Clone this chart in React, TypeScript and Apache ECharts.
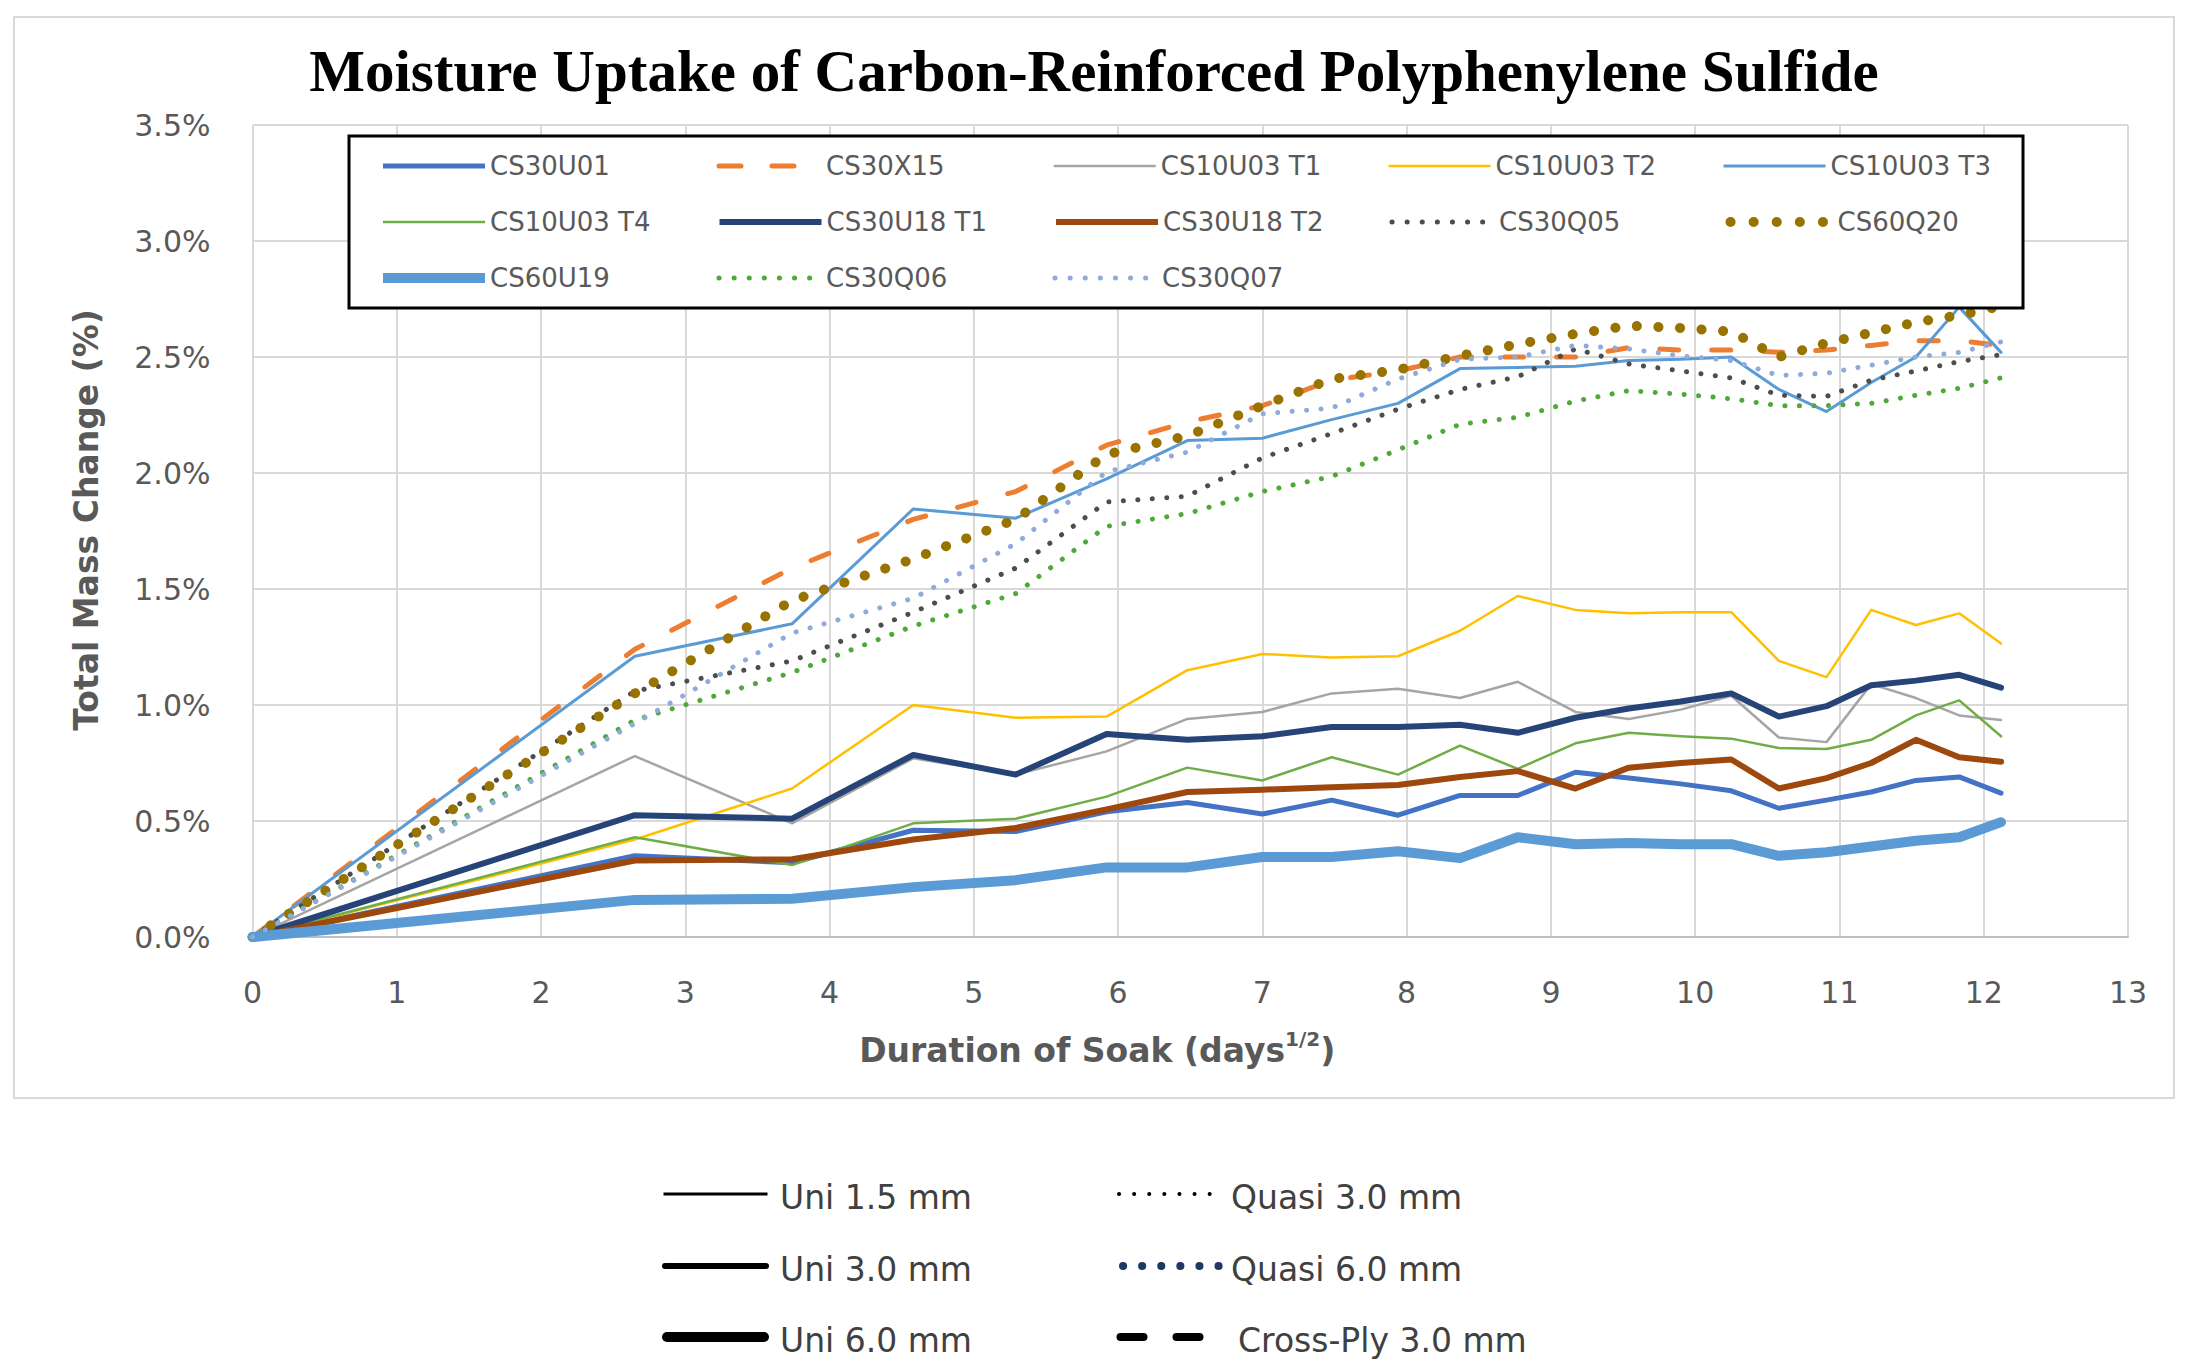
import React, { useEffect, useRef } from 'react';
import * as echarts from 'echarts';

// x values: square root of soak duration (days^1/2)
const sqrtDays = [0, 2.65, 3.74, 4.58, 5.29, 5.92, 6.48, 7.0, 7.48, 7.94, 8.37, 8.77, 9.17, 9.54, 9.9, 10.25, 10.58, 10.91, 11.22, 11.53, 11.83, 12.12];

// Total mass change (%) per specimen
const cs30u01 = [0, 0.35, 0.32, 0.46, 0.455, 0.54, 0.58, 0.53, 0.59, 0.525, 0.61, 0.61, 0.71, 0.685, 0.66, 0.63, 0.555, 0.59, 0.625, 0.675, 0.69, 0.62];
const cs30x15 = [0, 1.24, 1.59, 1.8, 1.92, 2.12, 2.22, 2.29, 2.4, 2.44, 2.5, 2.5, 2.5, 2.54, 2.53, 2.53, 2.52, 2.53, 2.55, 2.57, 2.57, 2.55];
const cs10u03t1 = [0, 0.78, 0.49, 0.77, 0.7, 0.8, 0.94, 0.97, 1.05, 1.07, 1.03, 1.1, 0.97, 0.94, 0.98, 1.04, 0.86, 0.84, 1.09, 1.03, 0.955, 0.935];
const cs10u03t2 = [0, 0.42, 0.64, 1.0, 0.945, 0.95, 1.15, 1.22, 1.205, 1.21, 1.32, 1.47, 1.41, 1.395, 1.4, 1.4, 1.19, 1.12, 1.41, 1.345, 1.395, 1.265];
const cs10u03t3 = [0, 1.21, 1.35, 1.845, 1.805, 1.975, 2.14, 2.15, 2.23, 2.3, 2.45, 2.455, 2.46, 2.485, 2.49, 2.5, 2.36, 2.265, 2.39, 2.5, 2.715, 2.52];
const cs10u03t4 = [0, 0.43, 0.31, 0.49, 0.51, 0.605, 0.73, 0.675, 0.775, 0.7, 0.825, 0.725, 0.835, 0.88, 0.865, 0.855, 0.815, 0.81, 0.85, 0.955, 1.02, 0.865];
const cs30u18t1 = [0, 0.525, 0.51, 0.785, 0.7, 0.875, 0.85, 0.865, 0.905, 0.905, 0.915, 0.88, 0.945, 0.985, 1.015, 1.05, 0.95, 0.995, 1.085, 1.105, 1.13, 1.075];
const cs30u18t2 = [0, 0.33, 0.335, 0.42, 0.47, 0.55, 0.625, 0.635, 0.645, 0.655, 0.69, 0.715, 0.64, 0.73, 0.75, 0.765, 0.64, 0.685, 0.75, 0.85, 0.775, 0.755];
const cs30q05 = [0, 1.06, 1.19, 1.4, 1.59, 1.875, 1.9, 2.065, 2.17, 2.275, 2.36, 2.415, 2.535, 2.47, 2.44, 2.41, 2.335, 2.33, 2.4, 2.44, 2.48, 2.51];
const cs60q20 = [0, 1.05, 1.45, 1.63, 1.8, 2.08, 2.16, 2.29, 2.405, 2.445, 2.505, 2.555, 2.6, 2.635, 2.625, 2.61, 2.5, 2.56, 2.605, 2.65, 2.68, 2.72];
const cs60u19 = [0, 0.16, 0.165, 0.215, 0.245, 0.3, 0.3, 0.345, 0.345, 0.37, 0.34, 0.43, 0.4, 0.405, 0.4, 0.4, 0.35, 0.365, 0.39, 0.415, 0.43, 0.495];
const cs30q06 = [0, 0.935, 1.14, 1.34, 1.48, 1.77, 1.825, 1.92, 1.985, 2.1, 2.21, 2.24, 2.31, 2.355, 2.34, 2.32, 2.29, 2.29, 2.3, 2.335, 2.365, 2.41];
const cs30q07 = [0, 0.92, 1.31, 1.46, 1.695, 2.005, 2.09, 2.255, 2.28, 2.405, 2.49, 2.5, 2.55, 2.535, 2.505, 2.485, 2.42, 2.43, 2.465, 2.5, 2.52, 2.565];

const seriesNames = ['CS30U01', 'CS30X15', 'CS10U03 T1', 'CS10U03 T2', 'CS10U03 T3', 'CS10U03 T4', 'CS30U18 T1', 'CS30U18 T2', 'CS30Q05', 'CS60Q20', 'CS60U19', 'CS30Q06', 'CS30Q07'];
const seriesValues = [cs30u01, cs30x15, cs10u03t1, cs10u03t2, cs10u03t3, cs10u03t4, cs30u18t1, cs30u18t2, cs30q05, cs60q20, cs60u19, cs30q06, cs30q07];

const yTicks = [0, 0.5, 1, 1.5, 2, 2.5, 3, 3.5];
const keyUni = ['Uni 1.5 mm', 'Uni 3.0 mm', 'Uni 6.0 mm'];
const keyOther = ['Quasi 3.0 mm', 'Quasi 6.0 mm', 'Cross-Ply 3.0 mm'];

type Sty = { color: string; width: number; dash?: number[]; legendDash?: number[] };
const styles: Sty[] = [
  { color: '#4472C4', width: 5 },
  { color: '#ED7D31', width: 5, dash: [19, 33], legendDash: [22, 31] },
  { color: '#A5A5A5', width: 2.5 },
  { color: '#FFC000', width: 2.5 },
  { color: '#5B9BD5', width: 3 },
  { color: '#70AD47', width: 2.5 },
  { color: '#264478', width: 6 },
  { color: '#9E480E', width: 6 },
  { color: '#4D4D4D', width: 5, dash: [0.1, 14.4], legendDash: [0.1, 15] },
  { color: '#997300', width: 10, dash: [0.1, 21.5], legendDash: [0.1, 23] },
  { color: '#5B9BD5', width: 10 },
  { color: '#4FA83A', width: 5, dash: [0.1, 14.4], legendDash: [0.1, 15] },
  { color: '#8FAADC', width: 5, dash: [0.1, 14.4], legendDash: [0.1, 15] },
];

const FONT = '"DejaVu Sans", "Open Sans", sans-serif';
const GRAY = '#595959';

export default function App() {
  const ref = useRef<HTMLDivElement>(null);
  useEffect(() => {
    document.body.style.margin = '0';
    if (!ref.current) return;
    const chart = echarts.init(ref.current, null, { renderer: 'svg' });

    const series = seriesNames.map((name, i) => ({
      name,
      type: 'line',
      data: sqrtDays.map((x, j) => [x, seriesValues[i][j]]),
      symbol: 'none',
      showSymbol: false,
      smooth: false,
      lineStyle: {
        color: styles[i].color,
        width: styles[i].width,
        type: styles[i].dash ? styles[i].dash : 'solid',
        cap: 'round',
        join: 'round',
      },
      itemStyle: { color: styles[i].color },
      emphasis: { disabled: true },
      z: 2,
    }));

    const legendData = seriesNames.map((name, i) => ({
      name,
      lineStyle: {
        color: styles[i].color,
        width: styles[i].width,
        type: styles[i].legendDash ? styles[i].legendDash : 'solid',
        cap: styles[i].dash ? 'round' : 'butt',
        opacity: 1,
      },
    }));

    const rowY = [1194, 1266, 1337];
    const keyGraphics: any[] = [];
    const uniWidths = [3, 6, 10];
    keyUni.forEach((t, i) => {
      keyGraphics.push({
        type: 'line',
        shape: { x1: 662 + uniWidths[i] / 2, y1: rowY[i], x2: 769 - uniWidths[i] / 2, y2: rowY[i] },
        style: { stroke: '#000', lineWidth: uniWidths[i], lineCap: i === 0 ? 'butt' : 'round' },
      });
      keyGraphics.push({
        type: 'text',
        x: 780,
        y: rowY[i] + 3,
        style: { text: t, font: `33px ${FONT}`, fill: '#404040', textAlign: 'left', textVerticalAlign: 'middle' },
      });
    });
    const otherStyles = [
      { stroke: '#000', lineWidth: 4, lineDash: [0.1, 15], x1: 1119, x2: 1216 },
      { stroke: '#203864', lineWidth: 8, lineDash: [0.1, 19], x1: 1123, x2: 1219 },
      { stroke: '#000', lineWidth: 8, lineDash: [23, 33], x1: 1120.5, x2: 1205 },
    ];
    const otherTextX = [1231, 1231, 1238];
    keyOther.forEach((t, i) => {
      const s = otherStyles[i];
      keyGraphics.push({
        type: 'line',
        shape: { x1: s.x1, y1: rowY[i], x2: s.x2, y2: rowY[i] },
        style: { stroke: s.stroke, lineWidth: s.lineWidth, lineDash: s.lineDash, lineCap: 'round' },
      });
      keyGraphics.push({
        type: 'text',
        x: otherTextX[i],
        y: rowY[i] + 3,
        style: { text: t, font: `33px ${FONT}`, fill: '#404040', textAlign: 'left', textVerticalAlign: 'middle' },
      });
    });

    const option: any = {
      animation: false,
      backgroundColor: '#ffffff',
      textStyle: { fontFamily: FONT },
      grid: { left: 252.5, right: 60, top: 125, bottom: 433, containLabel: false },
      xAxis: {
        type: 'value',
        min: 0,
        max: 13,
        interval: 1,
        axisLine: { show: true, onZero: false, lineStyle: { color: '#BFBFBF', width: 2 } },
        axisTick: { show: false },
        splitLine: { show: true, lineStyle: { color: '#D9D9D9', width: 2 } },
        axisLabel: { color: GRAY, fontSize: 30, margin: 40, fontFamily: FONT },
        name: '{a|Duration of Soak (days}{b|1/2}{a|)}',
        nameLocation: 'middle',
        nameGap: 92,
        nameTextStyle: {
          padding: [0, 186, 0, 0],
          rich: {
            a: { fontSize: 33, fontWeight: 'bold', color: GRAY, fontFamily: FONT, lineHeight: 42 },
            b: { fontSize: 20, fontWeight: 'bold', color: GRAY, fontFamily: FONT, lineHeight: 22, verticalAlign: 'top' },
          },
        },
      },
      yAxis: {
        type: 'value',
        min: yTicks[0],
        max: yTicks[yTicks.length - 1],
        interval: yTicks[1] - yTicks[0],
        axisLine: { show: false },
        axisTick: { show: false },
        splitLine: { show: true, lineStyle: { color: '#D9D9D9', width: 2 } },
        axisLabel: { color: GRAY, fontSize: 30, margin: 42, fontFamily: FONT, formatter: (v: number) => `${v.toFixed(1)}%` },
        name: 'Total Mass Change (%)',
        nameLocation: 'middle',
        nameRotate: 90,
        nameGap: 150,
        nameTextStyle: { fontSize: 33, fontWeight: 'bold', color: GRAY, fontFamily: FONT, padding: [0, 0, 0, 22] },
      },
      legend: {
        left: 378,
        top: 151,
        width: 1700,
        orient: 'horizontal',
        padding: 0,
        itemWidth: 102,
        itemHeight: 14,
        itemGap: 26,
        selectedMode: false,
        data: legendData,
        itemStyle: { opacity: 0 },
        textStyle: { color: GRAY, fontSize: 26, fontFamily: FONT, width: 200.5, lineHeight: 30 },
        z: 5,
      },
      graphic: [
        {
          type: 'rect',
          shape: { x: 14, y: 17, width: 2160, height: 1081 },
          style: { fill: 'none', stroke: '#D9D9D9', lineWidth: 2 },
          z: 0,
          silent: true,
        },
        {
          type: 'rect',
          shape: { x: 349, y: 136, width: 1674, height: 172 },
          style: { fill: '#ffffff', stroke: '#000000', lineWidth: 3 },
          z: 4,
          silent: true,
        },
        {
          type: 'text',
          x: 1094,
          y: 71,
          style: {
            text: 'Moisture Uptake of Carbon-Reinforced Polyphenylene Sulfide',
            font: 'bold 59px "Liberation Serif", "Times New Roman", serif',
            fill: '#000000',
            textAlign: 'center',
            textVerticalAlign: 'middle',
          },
          z: 5,
        },
        ...keyGraphics,
      ],
      series,
    };

    chart.setOption(option);
    return () => chart.dispose();
  }, []);

  return <div ref={ref} style={{ width: 2188, height: 1370, position: 'absolute', left: 0, top: 0, background: '#fff' }} />;
}
